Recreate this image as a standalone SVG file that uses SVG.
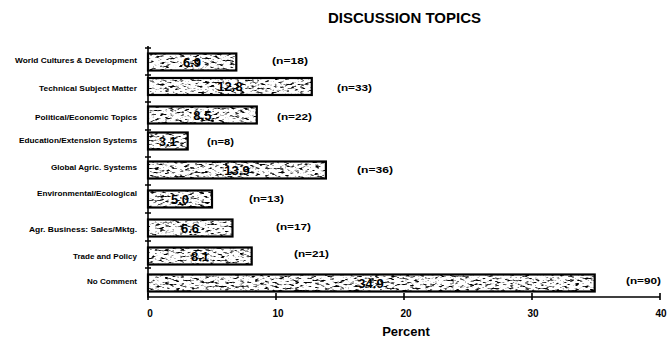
<svg xmlns="http://www.w3.org/2000/svg" width="672" height="341" viewBox="0 0 672 341">
<style>
text{font-family:"Liberation Sans",Arial,sans-serif;font-weight:bold;fill:#000}
.cat{font-size:7.5px;text-anchor:end}
.n{font-size:9px}
.val{font-size:13px;text-anchor:middle}
.tick{font-size:10px;text-anchor:middle}
.ax{stroke:#000;stroke-width:1.6;fill:none}
.bar{stroke:#000;stroke-width:2.2;fill:none}
.fill{filter:url(#speckle);fill:#fff}
</style>
<defs>
<filter id="speckle" x="0" y="0" width="1" height="1" color-interpolation-filters="sRGB">
<feTurbulence type="fractalNoise" baseFrequency="0.2 0.5" numOctaves="2" seed="7" result="n"/>
<feColorMatrix in="n" type="matrix" values="4.5 0 0 0 -1.2  4.5 0 0 0 -1.2  4.5 0 0 0 -1.2  0 0 0 0 1" result="g"/>
<feComposite in="g" in2="SourceGraphic" operator="in"/>
</filter>
</defs>
<rect width="672" height="341" fill="#fff"/>
<text x="404.5" y="23" font-size="14" text-anchor="middle" textLength="153" lengthAdjust="spacingAndGlyphs">DISCUSSION TOPICS</text>

<g id="axes">
<path class="ax" d="M148 46V297H660"/>
<path class="ax" d="M145 48H151M145 75H151M145 102H151M145 130H151M145 157H151M145 185H151M145 213H151M145 241H151M145 268H151"/>
<path class="ax" d="M148 293V300M276 293V300M404 293V300M532 293V300M660 293V300"/>
<text class="tick" x="150" y="317">0</text>
<text class="tick" x="278" y="317">10</text>
<text class="tick" x="406" y="317">20</text>
<text class="tick" x="533" y="317">30</text>
<text class="tick" x="661" y="317">40</text>
<text x="406" y="336" font-size="13" text-anchor="middle">Percent</text>
</g>

<g id="world-cultures">
<text class="cat" x="137" y="62.5" textLength="122" lengthAdjust="spacingAndGlyphs">World Cultures &amp; Development</text>
<rect class="fill" x="148" y="53.5" width="88.3" height="17"/>
<rect class="bar" x="148" y="53.5" width="88.3" height="17"/>
<text class="val" x="192" y="66.5">6.9</text>
<text class="n" x="272" y="64" textLength="36" lengthAdjust="spacingAndGlyphs">(n=18)</text>
</g>
<g id="technical">
<text class="cat" x="137" y="90.5" textLength="98" lengthAdjust="spacingAndGlyphs">Technical Subject Matter</text>
<rect class="fill" x="148" y="78" width="163.8" height="17"/>
<rect class="bar" x="148" y="78" width="163.8" height="17"/>
<text class="val" x="230" y="91">12.8</text>
<text class="n" x="337" y="91" textLength="35" lengthAdjust="spacingAndGlyphs">(n=33)</text>
</g>
<g id="political">
<text class="cat" x="137" y="119.5" textLength="102" lengthAdjust="spacingAndGlyphs">Political/Economic Topics</text>
<rect class="fill" x="148" y="106.5" width="108.8" height="17"/>
<rect class="bar" x="148" y="106.5" width="108.8" height="17"/>
<text class="val" x="202.4" y="119.5">8.5</text>
<text class="n" x="277" y="120" textLength="35" lengthAdjust="spacingAndGlyphs">(n=22)</text>
</g>
<g id="education">
<text class="cat" x="137" y="142.5" textLength="118" lengthAdjust="spacingAndGlyphs">Education/Extension Systems</text>
<rect class="fill" x="148" y="132.5" width="39.7" height="17"/>
<rect class="bar" x="148" y="132.5" width="39.7" height="17"/>
<text class="val" x="167.8" y="145.5">3.1</text>
<text class="n" x="207" y="145" textLength="27" lengthAdjust="spacingAndGlyphs">(n=8)</text>
</g>
<g id="global">
<text class="cat" x="137" y="169.5" textLength="86" lengthAdjust="spacingAndGlyphs">Global Agric. Systems</text>
<rect class="fill" x="148" y="161.5" width="177.9" height="17"/>
<rect class="bar" x="148" y="161.5" width="177.9" height="17"/>
<text class="val" x="237" y="174.5">13.9</text>
<text class="n" x="357" y="173" textLength="36" lengthAdjust="spacingAndGlyphs">(n=36)</text>
</g>
<g id="environmental">
<text class="cat" x="137" y="195.5" textLength="100" lengthAdjust="spacingAndGlyphs">Environmental/Ecological</text>
<rect class="fill" x="148" y="190.5" width="64" height="17"/>
<rect class="bar" x="148" y="190.5" width="64" height="17"/>
<text class="val" x="180" y="203.5">5.0</text>
<text class="n" x="249" y="202" textLength="35" lengthAdjust="spacingAndGlyphs">(n=13)</text>
</g>
<g id="agr-business">
<text class="cat" x="137" y="231.5" textLength="108" lengthAdjust="spacingAndGlyphs">Agr. Business: Sales/Mktg.</text>
<rect class="fill" x="148" y="219.5" width="84.5" height="17"/>
<rect class="bar" x="148" y="219.5" width="84.5" height="17"/>
<text class="val" x="190" y="232.5">6.6</text>
<text class="n" x="276" y="230" textLength="35" lengthAdjust="spacingAndGlyphs">(n=17)</text>
</g>
<g id="trade">
<text class="cat" x="137" y="258.5" textLength="64" lengthAdjust="spacingAndGlyphs">Trade and Policy</text>
<rect class="fill" x="148" y="247.5" width="103.7" height="17"/>
<rect class="bar" x="148" y="247.5" width="103.7" height="17"/>
<text class="val" x="200" y="260.5">8.1</text>
<text class="n" x="294" y="257" textLength="35" lengthAdjust="spacingAndGlyphs">(n=21)</text>
</g>
<g id="no-comment">
<text class="cat" x="137" y="283.5" textLength="50" lengthAdjust="spacingAndGlyphs">No Comment</text>
<rect class="fill" x="148" y="274.5" width="446.7" height="17"/>
<rect class="bar" x="148" y="274.5" width="446.7" height="17"/>
<text class="val" x="371" y="287.5">34.9</text>
<text class="n" x="626" y="284" textLength="35" lengthAdjust="spacingAndGlyphs">(n=90)</text>
</g>
</svg>
